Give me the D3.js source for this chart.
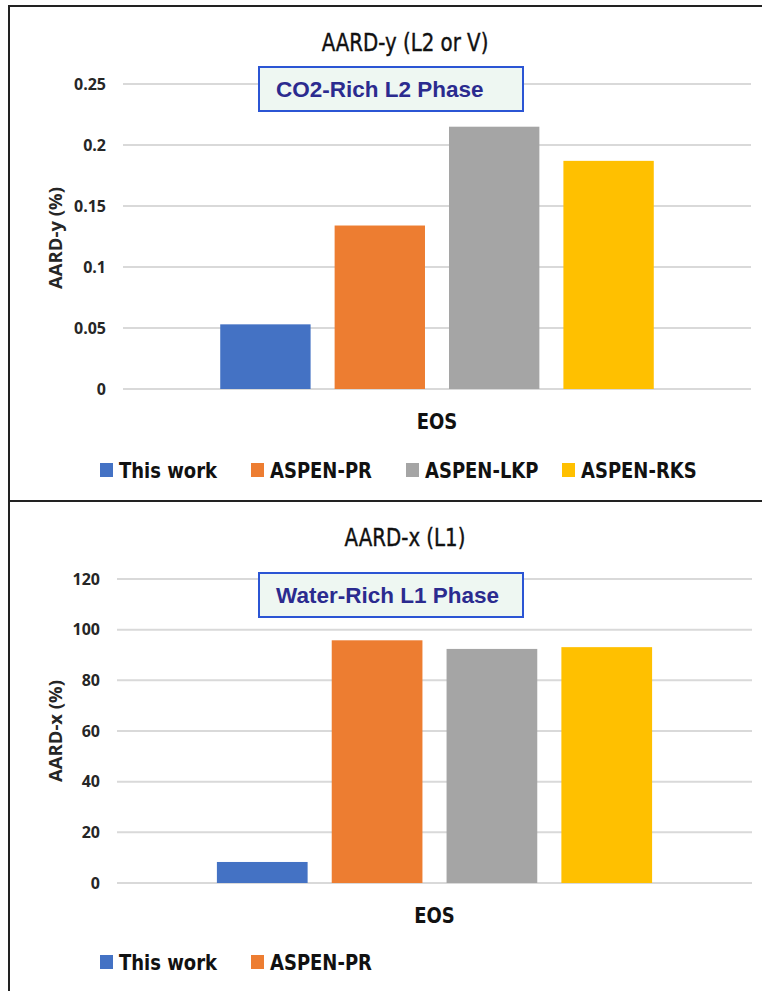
<!DOCTYPE html>
<html>
<head>
<meta charset="utf-8">
<script src="https://cdn.jsdelivr.net/npm/d3@7"></script>
<style>
  body { margin: 0; background: #fff; }
  svg { display: block; }
</style>
</head>
<body>
<div id="chart"></div>
<script>
// data
const series = ['This work', 'ASPEN-PR', 'ASPEN-LKP', 'ASPEN-RKS'];
const colors = ['#4472C4', '#ED7D31', '#A5A5A5', '#FFC000'];
const category = 'EOS';

const aardY = [0.053, 0.134, 0.215, 0.187];
const aardYTicks = [0, 0.05, 0.1, 0.15, 0.2, 0.25];

const aardX = [8.3, 95.8, 92.4, 93.1];
const aardXTicks = [0, 20, 40, 60, 80, 100, 120];

const width = 762, height = 991;
const font = '"DejaVu Sans Condensed", "Liberation Sans", Arial, sans-serif';
const tickFont = '"Open Sans", "Noto Sans", sans-serif';
const squeeze = 0.91; // calibri-ish narrow look

var svg = d3.select('#chart')
            .append('svg')
            .attr('width', width)
            .attr('height', height);

// panel frames
svg.append('rect')
   .attr('x', 9).attr('y', 6)
   .attr('width', 770).attr('height', 495)
   .attr('fill', 'none')
   .attr('stroke', '#222')
   .attr('stroke-width', 2);
svg.append('rect')
   .attr('x', 9).attr('y', 501)
   .attr('width', 770).attr('height', 520)
   .attr('fill', 'none')
   .attr('stroke', '#222')
   .attr('stroke-width', 2);

function drawPanel(opt) {
  var g = svg.append('g');

  var y = d3.scaleLinear()
            .domain([0, d3.max(opt.ticks)])
            .range([opt.y0, opt.y1]);

  var x0 = d3.scaleBand()
             .domain([category])
             .range([opt.x0, opt.x1]);

  var x1 = d3.scaleBand()
             .domain(series)
             .range([x0(category), x0(category) + x0.bandwidth()])
             .paddingInner(0.21)
             .paddingOuter(opt.outer);

  // grid
  g.selectAll('.grid')
   .data(opt.ticks)
   .enter()
   .append('line')
   .attr('x1', opt.x0).attr('x2', opt.x1)
   .attr('y1', d => y(d)).attr('y2', d => y(d))
   .attr('stroke', '#d9d9d9')
   .attr('stroke-width', 2);

  // y axis labels
  var yAxis = d3.axisLeft(y)
                .tickValues(opt.ticks)
                .tickSize(0)
                .tickPadding(0)
                .tickFormat(d => String(d));
  var ya = g.append('g')
            .attr('transform', 'translate(' + (opt.x0 - 17) + ',0)')
            .call(yAxis);
  ya.select('.domain').remove();
  ya.selectAll('text')
    .attr('font-family', tickFont)
    .attr('font-weight', 'bold')
    .attr('font-size', 16)
    .attr('fill', '#262626');

  // bars
  g.selectAll('.bar')
   .data(opt.values)
   .enter()
   .append('rect')
   .attr('x', (d, i) => x1(series[i]))
   .attr('y', d => y(d))
   .attr('width', x1.bandwidth())
   .attr('height', d => opt.y0 - y(d))
   .attr('fill', (d, i) => colors[i]);

  // title
  g.append('text')
   .attr('transform', 'translate(405,' + opt.titleY + ') scale(0.88,1)')
   .attr('text-anchor', 'middle')
   .attr('font-family', font)
   .attr('font-size', 25)
   .attr('fill', '#111')
   .attr('stroke', '#111')
   .attr('stroke-width', 0.4)
   .text(opt.title);

  // y title
  g.append('text')
   .attr('transform', 'translate(' + 62 + ',' + opt.ylabY + ') rotate(-90)')
   .attr('text-anchor', 'middle')
   .attr('font-family', tickFont)
   .attr('font-weight', 'bold')
   .attr('font-size', 18.5)
   .attr('fill', '#262626')
   .text(opt.ylab);

  // x category label
  g.append('text')
   .attr('transform', 'translate(' + ((opt.x0 + opt.x1) / 2) + ',' + (opt.y0 + 40) + ') scale(' + squeeze + ',1)')
   .attr('text-anchor', 'middle')
   .attr('font-family', font)
   .attr('font-weight', 'bold')
   .attr('font-size', 22)
   .attr('fill', '#111')
   .text(category);

  // phase box
  g.append('rect')
   .attr('x', 259).attr('y', opt.boxY)
   .attr('width', 264).attr('height', 44)
   .attr('fill', '#eef7f2')
   .attr('stroke', '#2b55d4')
   .attr('stroke-width', 2);
  g.append('text')
   .attr('x', 276)
   .attr('y', opt.boxY + 30)
   .attr('font-family', '"Liberation Sans", Arial, sans-serif')
   .attr('font-weight', 'bold')
   .attr('font-size', 22.5)
   .attr('fill', '#2b2b8f')
   .text(opt.box);

  // legend
  var legend = g.selectAll('.leg')
                .data(opt.legendX)
                .enter()
                .append('g')
                .attr('transform', (d, i) => 'translate(' + d + ',' + opt.legY + ')');
  legend.append('rect')
        .attr('x', 0).attr('y', -7)
        .attr('width', 13).attr('height', 14)
        .attr('fill', (d, i) => colors[i]);
  legend.append('text')
        .attr('transform', 'translate(19,8) scale(' + squeeze + ',1)')
        .attr('font-family', font)
        .attr('font-weight', 'bold')
        .attr('font-size', 22)
        .attr('fill', '#111')
        .text((d, i) => series[i]);
}

drawPanel({
  values: aardY, ticks: aardYTicks,
  x0: 123, x1: 751, y0: 389, y1: 84,
  outer: 0.85,
  title: 'AARD-y (L2 or V)', titleY: 51,
  ylab: 'AARD-y (%)', ylabY: 238,
  box: 'CO2-Rich L2 Phase', boxY: 67,
  legendX: [100, 251, 406, 562], legY: 470
});

drawPanel({
  values: aardX, ticks: aardXTicks,
  x0: 117, x1: 752, y0: 883, y1: 579,
  outer: 0.87,
  title: 'AARD-x (L1)', titleY: 546,
  ylab: 'AARD-x (%)', ylabY: 731,
  box: 'Water-Rich L1 Phase', boxY: 573,
  legendX: [100, 251], legY: 962
});
</script>
</body>
</html>
